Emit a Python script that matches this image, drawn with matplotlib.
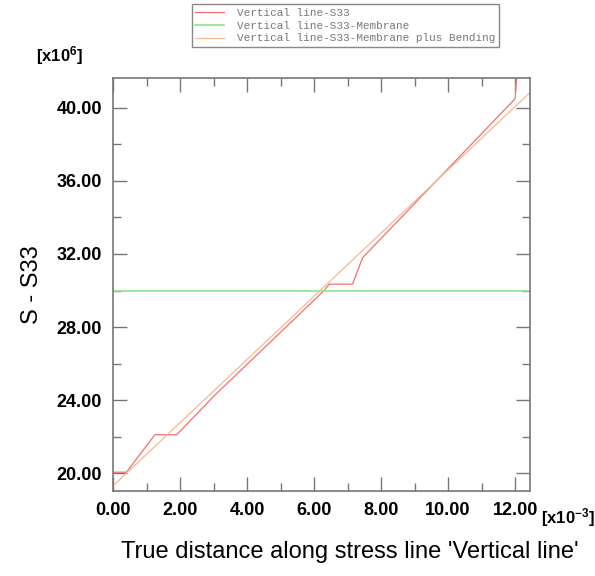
import numpy as np
import matplotlib
matplotlib.use("Agg")
import matplotlib.pyplot as plt
from matplotlib.ticker import MultipleLocator, FormatStrFormatter

# distance along line [x10^-3], S33 [x10^6]
s33_x = [0.0, 0.4, 1.25, 1.9, 3.0, 6.3, 6.45, 7.15, 7.45, 12.0, 12.05]
s33_y = [20.05, 20.05, 22.1, 22.1, 24.2, 30.0, 30.35, 30.35, 31.8, 40.5, 41.8]

membrane_x = [0.0, 12.45]
membrane_y = [29.98, 29.98]

bending_x = [0.0, 12.45]
bending_y = [19.3, 40.85]

labels = ["Vertical line-S33",
          "Vertical line-S33-Membrane",
          "Vertical line-S33-Membrane plus Bending"]

plt.rcParams['font.family'] = ['Liberation Sans', 'DejaVu Sans']
plt.rcParams['mathtext.default'] = 'regular'

fig = plt.figure(figsize=(5.95, 5.76), dpi=100)
ax = fig.add_axes([0.190, 0.1476, 0.701, 0.717])

l1, = ax.plot(s33_x, s33_y, color='#f07070', lw=0.9)
l2, = ax.plot(membrane_x, membrane_y, color='#88e888', lw=1.2)
l3, = ax.plot(bending_x, bending_y, color='#f8b890', lw=0.9)

ax.set_xlim(0, 12.45)
ax.set_ylim(19.02, 41.64)

ax.xaxis.set_major_locator(MultipleLocator(2))
ax.xaxis.set_minor_locator(MultipleLocator(1))
ax.yaxis.set_major_locator(MultipleLocator(4))
ax.yaxis.set_minor_locator(MultipleLocator(2))
ax.xaxis.set_major_formatter(FormatStrFormatter('%.2f'))
ax.yaxis.set_major_formatter(FormatStrFormatter('%.2f'))

ax.tick_params(which='both', direction='in', top=True, right=True,
               color='#777777', width=1)
ax.tick_params(which='major', length=10, labelsize=13, pad=8)
ax.tick_params(which='minor', length=5.5)
for lab in ax.get_xticklabels() + ax.get_yticklabels():
    lab.set_fontweight('bold')
for sp in ax.spines.values():
    sp.set_color('#777777')
    sp.set_linewidth(1.2)

fig.text(0.588, 0.042, "True distance along stress line 'Vertical line'",
         fontsize=17, ha='center', va='center')
ax.set_ylabel("S - S33", fontsize=17, labelpad=10)

fig.text(0.10, 0.903, r'[x10$^{6}$]', fontsize=12, fontweight='bold', ha='center', va='center')
fig.text(0.955, 0.102, r'[x10$^{-3}$]', fontsize=12, fontweight='bold', ha='center', va='center')

fig.legend([l1, l2, l3], labels, loc='upper left', bbox_to_anchor=(0.322, 0.993),
           prop={'family': 'Liberation Mono', 'size': 7.9}, labelcolor='#777777',
           frameon=True, fancybox=False, edgecolor='#888888', framealpha=1,
           handlelength=2.6, handletextpad=1.2, labelspacing=0.25,
           borderpad=0.35, borderaxespad=0)

fig.savefig('out.png', dpi=100)
